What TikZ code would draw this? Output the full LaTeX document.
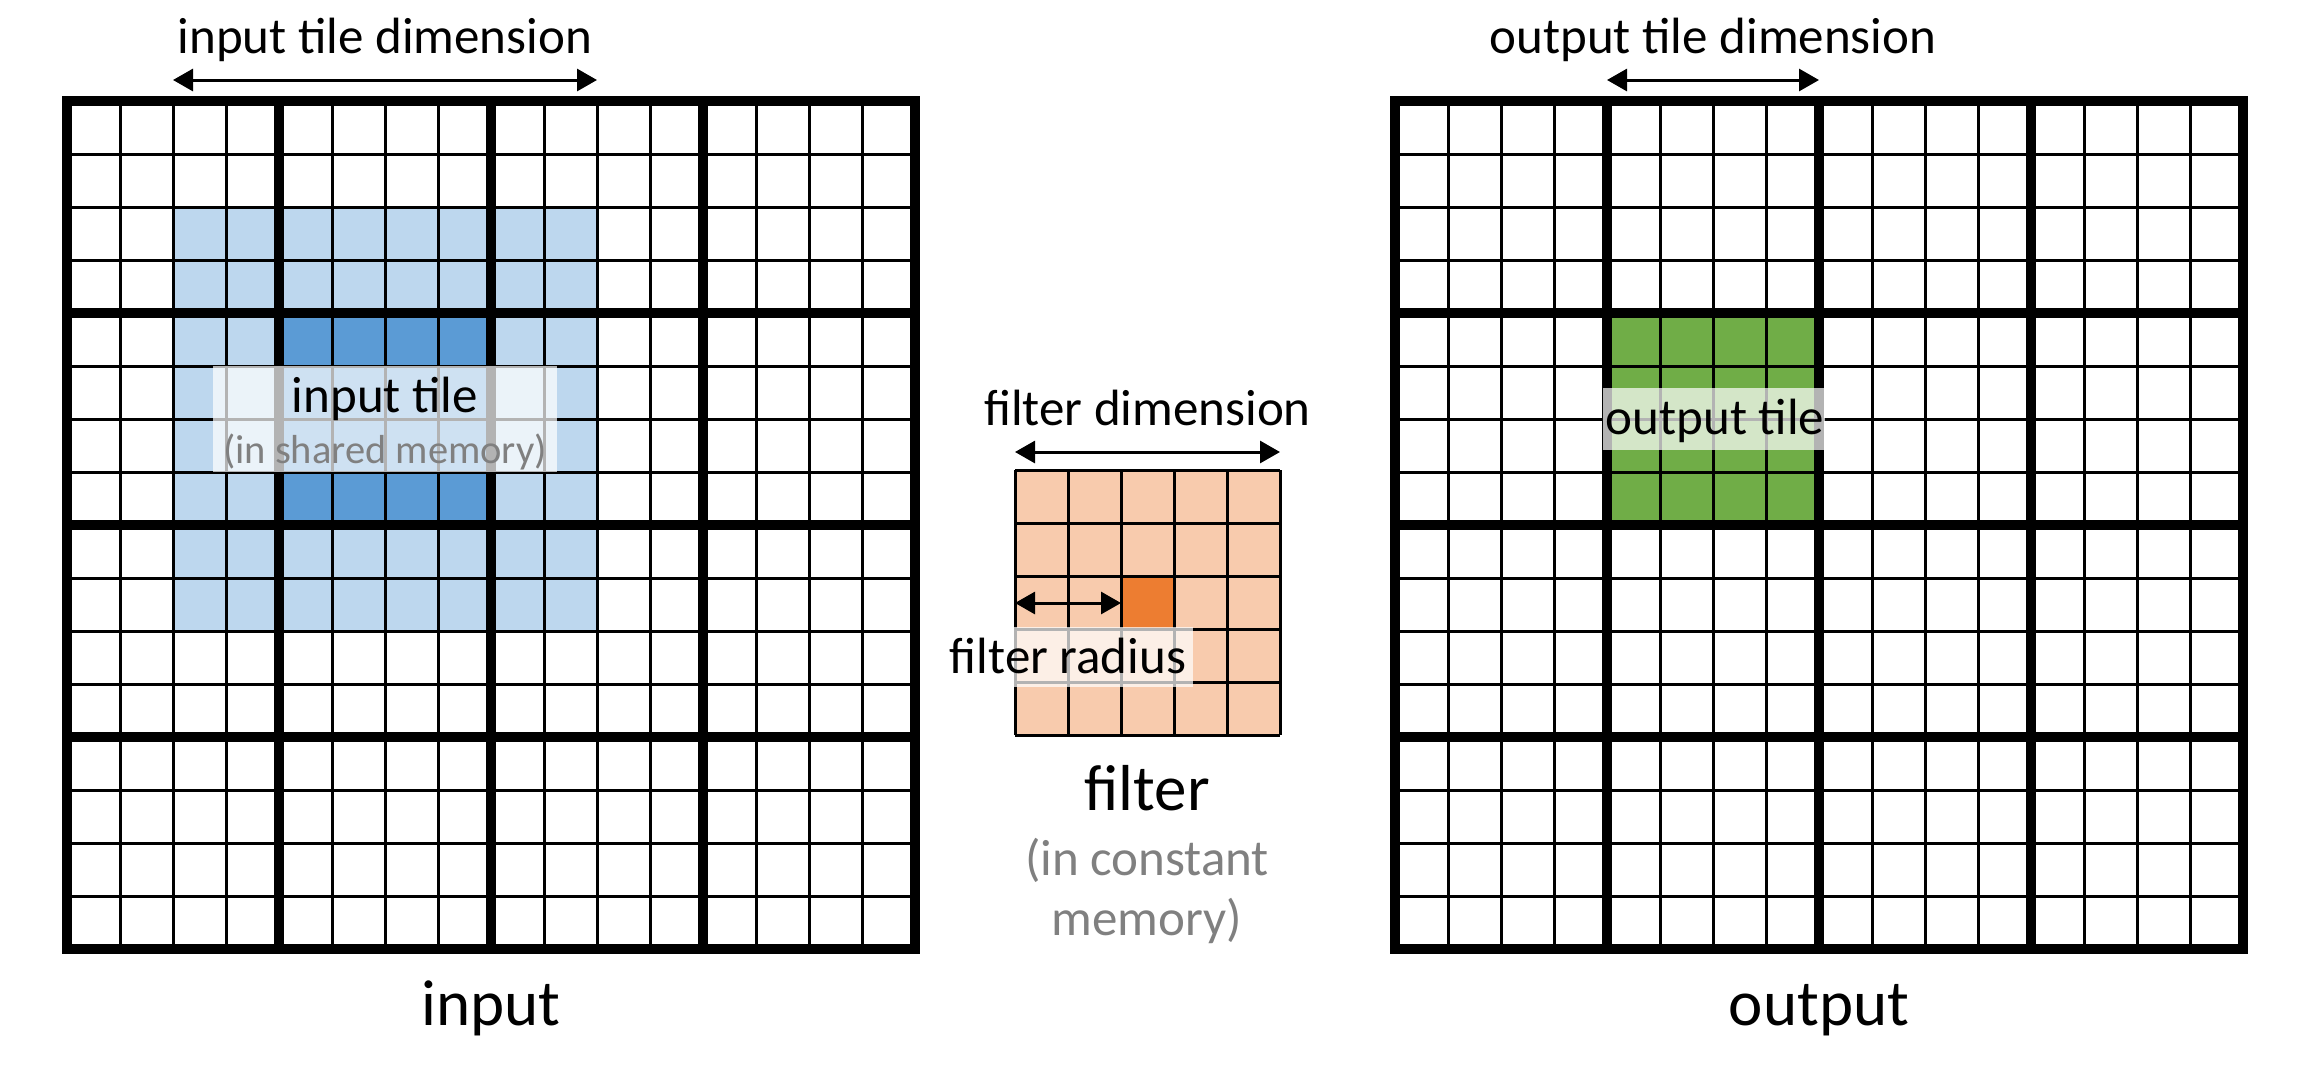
\documentclass[tikz,border=0pt]{standalone}
\usepackage{fontspec}
\setmainfont{Carlito}
\usetikzlibrary{arrows.meta}
\definecolor{lblue}{HTML}{BDD7EE}
\definecolor{dblue}{HTML}{5B9BD5}
\definecolor{tgreen}{HTML}{70AD47}
\definecolor{lorange}{HTML}{F8CBAD}
\definecolor{dorange}{HTML}{ED7D31}
\definecolor{txtgray}{HTML}{808080}
\tikzset{
  thinl/.style={line width=3pt},
  thickl/.style={line width=10pt},
  dimarrow/.style={line width=3pt, {Triangle[length=20pt,width=22pt]}-{Triangle[length=20pt,width=22pt]}},
  lbl/.style={font=\fontsize{51}{61}\selectfont, anchor=base, inner sep=0pt},
  sublbl/.style={font=\fontsize{40.5}{48}\selectfont, text=txtgray, anchor=base, inner sep=0pt},
  graylbl/.style={font=\fontsize{51}{61}\selectfont, text=txtgray, anchor=base, inner sep=0pt},
  biglbl/.style={font=\fontsize{65}{78}\selectfont, anchor=base, inner sep=0pt},
  veil/.style={fill=white, fill opacity=0.7},
}
\begin{document}
\begin{tikzpicture}[x=1pt,y=-1pt]
\useasboundingbox (0,0) rectangle (2300,1069);
\def\cs{53}
% ---------- input grid ----------
\fill[lblue] (173,207) rectangle (597,631);
\fill[dblue] (279,313) rectangle (491,525);
\foreach \i in {1,...,15} {
  \draw[thinl] ({67+\i*\cs},101) -- ({67+\i*\cs},949);
  \draw[thinl] (67,{101+\i*\cs}) -- (915,{101+\i*\cs});
}
\foreach \i in {4,8,12} {
  \draw[thickl] ({67+\i*\cs},101) -- ({67+\i*\cs},949);
  \draw[thickl] (67,{101+\i*\cs}) -- (915,{101+\i*\cs});
}
\draw[thickl, line join=miter] (67,101) rectangle (915,949);
% ---------- output grid ----------
\fill[tgreen] (1607,313) rectangle (1819,525);
\foreach \i in {1,...,15} {
  \draw[thinl] ({1395+\i*\cs},101) -- ({1395+\i*\cs},949);
  \draw[thinl] (1395,{101+\i*\cs}) -- (2243,{101+\i*\cs});
}
\foreach \i in {4,8,12} {
  \draw[thickl] ({1395+\i*\cs},101) -- ({1395+\i*\cs},949);
  \draw[thickl] (1395,{101+\i*\cs}) -- (2243,{101+\i*\cs});
}
\draw[thickl, line join=miter] (1395,101) rectangle (2243,949);
% ---------- filter ----------
\fill[lorange] (1015,470) rectangle (1280,735);
\fill[dorange] (1121,576) rectangle (1174,629);
\foreach \i in {0,...,5} {
  \draw[thinl] ({1015+\i*\cs},470) -- ({1015+\i*\cs},735);
  \draw[thinl] (1015,{470+\i*\cs}) -- (1280,{470+\i*\cs});
}
% ---------- veils ----------
\fill[veil] (213,366) rectangle (557,472);
\fill[veil] (1603,388) rectangle (1825,450);
\fill[veil] (1013,627) rectangle (1193,687);
% ---------- arrows ----------
\coordinate (ita) at (173,80);  \coordinate (itb) at (597,80);
\coordinate (ota) at (1607,80); \coordinate (otb) at (1819,80);
\coordinate (fda) at (1015,452); \coordinate (fdb) at (1280,452);
\coordinate (fra) at (1015,603); \coordinate (frb) at (1121,603);
\draw[dimarrow] (ita) -- (itb);
\draw[dimarrow] (ota) -- (otb);
\draw[dimarrow] (fda) -- (fdb);
\draw[dimarrow] (fra) -- (frb);
% ---------- labels ----------
\node[lbl] (itdim) at (385,53) {input tile dimension};
\node[lbl] (otdim) at (1713,53) {output tile dimension};
\node[lbl] (fdim) at (1147.5,425) {filter dimension};
\node[lbl] (itile) at (385,412) {input tile};
\node[sublbl] (itmem) at (385,463) {(in shared memory)};
\node[lbl] (otile) at (1715,434) {output tile};
\node[lbl] (frad) at (1068,673) {filter radius};
\node[biglbl] (flbl) at (1147,810) {filter};
\node[graylbl] (fmem1) at (1147,875) {(in constant};
\node[graylbl] (fmem2) at (1147,935) {memory)};
\node[biglbl] (inlbl) at (491,1025) {input};
\node[biglbl] (outlbl) at (1819,1025) {output};
\end{tikzpicture}
\end{document}
